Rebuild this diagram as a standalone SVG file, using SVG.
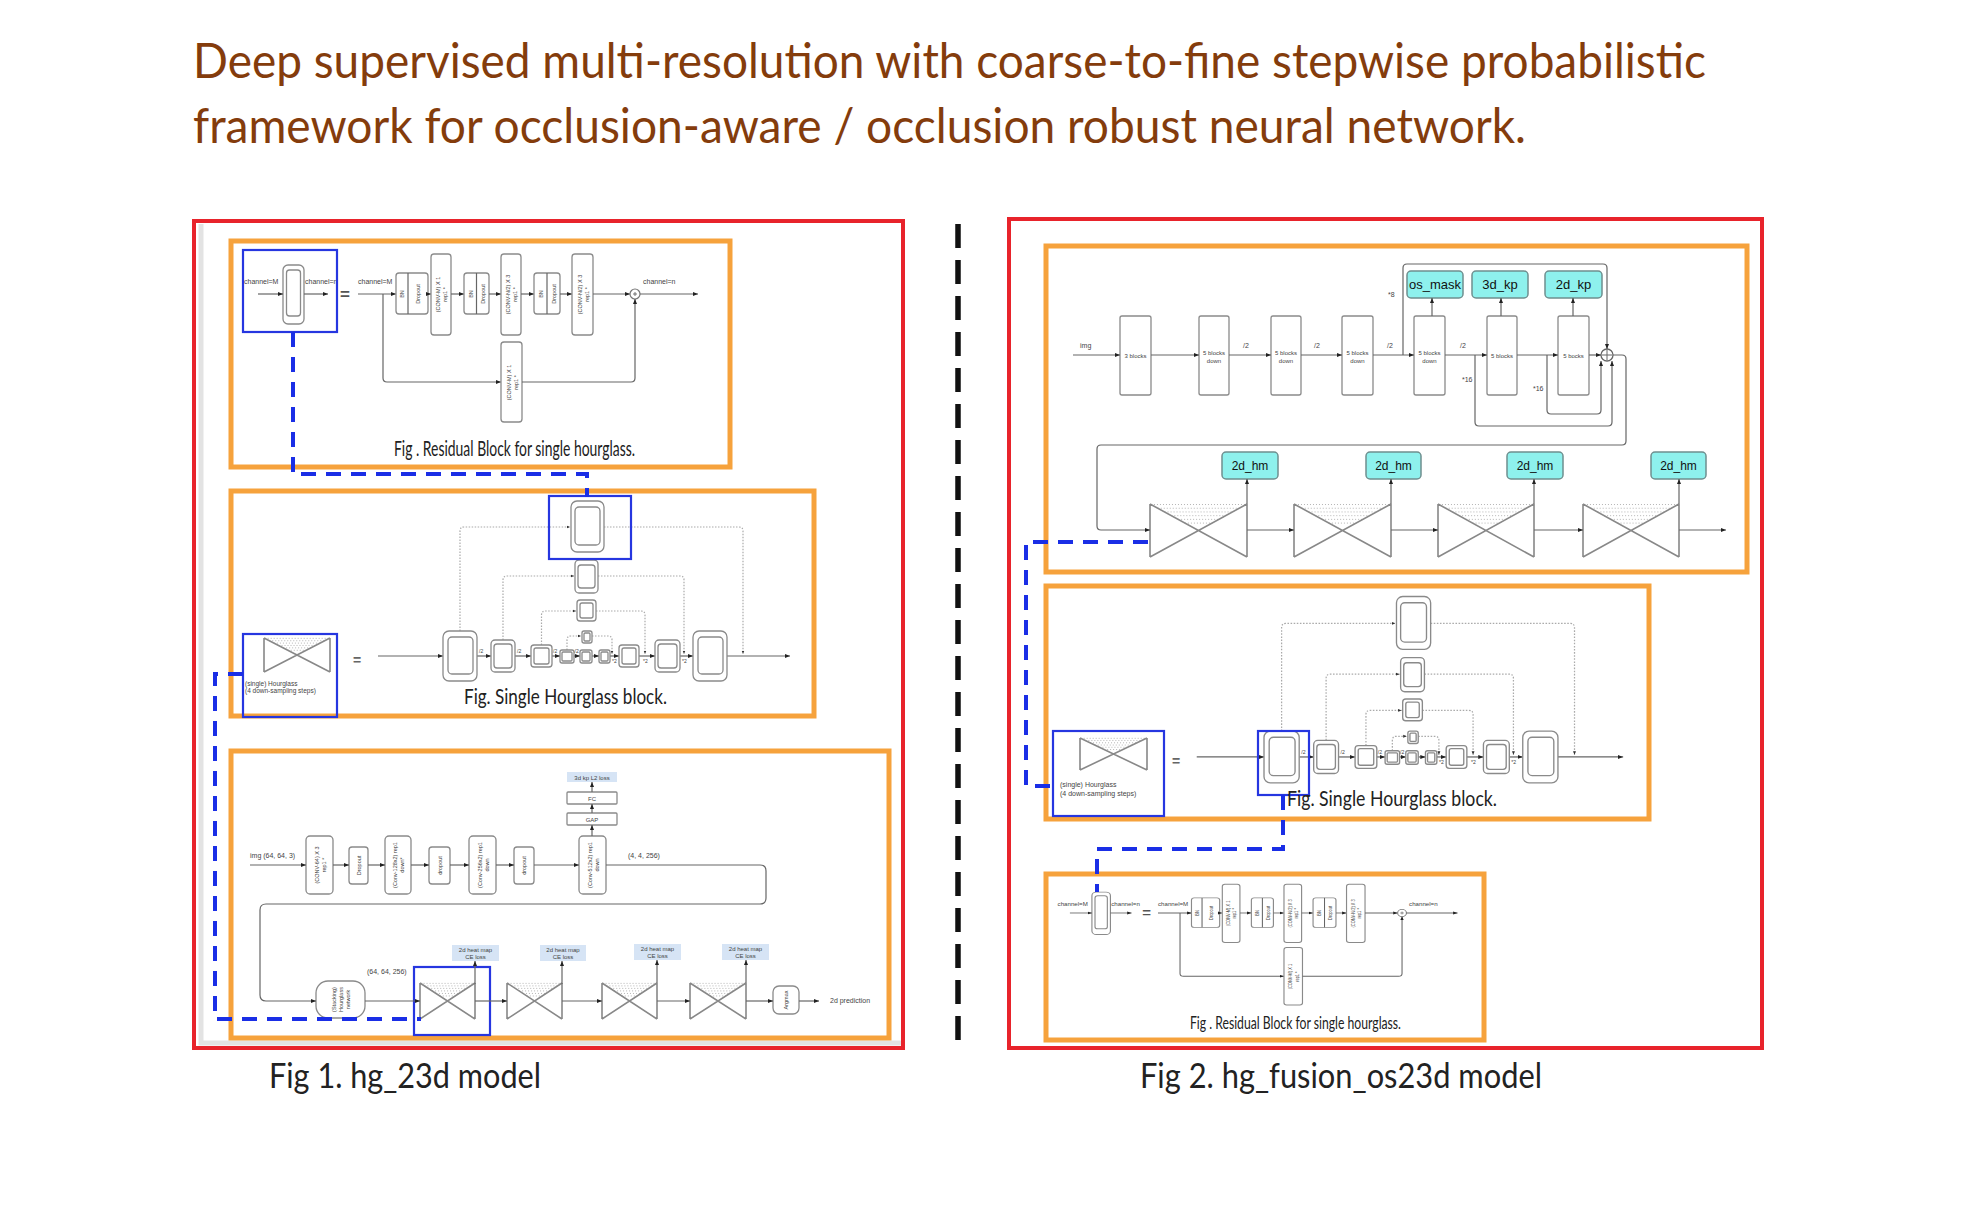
<svg xmlns="http://www.w3.org/2000/svg" xmlns:xlink="http://www.w3.org/1999/xlink" width="1982" height="1208" viewBox="0 0 1982 1208">
<defs>
<style>
.ln{stroke:#666;stroke-width:1.2;fill:none}
.arr{marker-end:url(#ah)}
.box{fill:#fff;stroke:#8a8a8a;stroke-width:1.3}
.dot{stroke:#aaa;stroke-width:1.2;stroke-dasharray:1.5 1.5;fill:none;marker-end:url(#ahs)}
.blue{fill:none;stroke:#2636e0;stroke-width:2.2}
.bdash{fill:none;stroke:#1a2ee6;stroke-width:4;stroke-dasharray:15 10}
.orange{fill:none;stroke:#f6a23c;stroke-width:5}
.red{fill:none;stroke:#e8232b;stroke-width:4}
.cyan{fill:#8ef1ed;stroke:#6f8f8f;stroke-width:1.5}
.loss{fill:#d6e4f5}
.t{font-family:"Liberation Sans",Arial,sans-serif;fill:#444}
.t7{font-family:"Liberation Sans",Arial,sans-serif;font-size:7px;fill:#444}
.r{font-family:"Liberation Sans",Arial,sans-serif;font-size:5.5px;fill:#444;text-anchor:middle}
.c{font-family:"Liberation Sans",Arial,sans-serif;font-size:6px;fill:#444;text-anchor:middle}
.cap{font-family:Lato,"Open Sans",sans-serif;fill:#222}
.hgl{stroke:#888;stroke-width:1.6;fill:none;vector-effect:non-scaling-stroke}
.hgd{stroke:#b5b5b5;stroke-width:1;stroke-dasharray:1 2;fill:none;vector-effect:non-scaling-stroke}
</style>
<marker id="ah" viewBox="0 0 10 10" refX="10" refY="5" markerWidth="5" markerHeight="5" markerUnits="userSpaceOnUse" orient="auto"><path d="M0,1 L10,5 L0,9z" fill="#222"/></marker>
<marker id="ahs" viewBox="0 0 10 10" refX="10" refY="5" markerWidth="3.5" markerHeight="3.5" markerUnits="userSpaceOnUse" orient="auto"><path d="M0,1 L10,5 L0,9z" fill="#333"/></marker>
<symbol id="hgsym" viewBox="0 0 100 100" preserveAspectRatio="none" overflow="visible">
<path class="hgd" d="M1,1 H99 M8,8 H92 M15,15 H85 M22,22 H78 M29,29 H71 M36,36 H64"/>
<path class="hgl" d="M0,0 L100,100 M0,100 L100,0 M0,0 V100 M100,0 V100"/>
</symbol>
<g id="resfig">
<rect class="box" x="283" y="265" width="21" height="59" rx="5"/>
<rect class="box" x="286.5" y="270" width="14" height="46" rx="3"/>
<path class="ln arr" d="M258,294 H283"/>
<path class="ln arr" d="M304,294 H328"/>
<text class="t7" x="244" y="284">channel=M</text>
<text class="t7" x="305" y="284">channel=n</text>
<text x="340" y="300" font-family="Liberation Sans,Arial,sans-serif" font-size="17" font-weight="bold" fill="#555">=</text>
<text class="t7" x="358" y="284">channel=M</text>
<path class="ln arr" d="M358,294 H396"/>
<path class="ln arr" d="M383,294 V378 Q383,382 387,382 H501"/>
<rect class="box" x="396" y="273" width="32" height="41" rx="3"/>
<path class="ln" d="M408,273 V314"/>
<text class="r" transform="translate(404,294) rotate(-90)">BN</text>
<text class="r" transform="translate(420,294) rotate(-90)">Dropout</text>
<path class="ln arr" d="M426,294 H431"/>
<rect class="box" x="431" y="254" width="20" height="81" rx="3"/>
<text class="r" transform="translate(441,294.5) rotate(-90)"><tspan x="0" y="-1">(CONV-M) X 1</tspan><tspan x="0" y="6">rep1 *</tspan></text>
<path class="ln arr" d="M451,294 H464"/>
<rect class="box" x="464" y="273" width="25" height="41" rx="3"/>
<path class="ln" d="M476.5,273 V314"/>
<text class="r" transform="translate(472.5,294) rotate(-90)">BN</text>
<text class="r" transform="translate(485,294) rotate(-90)">Dropout</text>
<path class="ln arr" d="M489,294 H501"/>
<rect class="box" x="501" y="254" width="20" height="81" rx="3"/>
<text class="r" transform="translate(511,294.5) rotate(-90)"><tspan x="0" y="-1">(CONV-N/2) X 3</tspan><tspan x="0" y="6">rep1 *</tspan></text>
<path class="ln arr" d="M521,294 H534"/>
<rect class="box" x="534" y="273" width="26" height="41" rx="3"/>
<path class="ln" d="M547,273 V314"/>
<text class="r" transform="translate(542.5,294) rotate(-90)">BN</text>
<text class="r" transform="translate(555.5,294) rotate(-90)">Dropout</text>
<path class="ln arr" d="M560,294 H572"/>
<rect class="box" x="572" y="254" width="21" height="81" rx="3"/>
<text class="r" transform="translate(582.5,294.5) rotate(-90)"><tspan x="0" y="-1">(CONV-N/2) X 3</tspan><tspan x="0" y="6">rep1 *</tspan></text>
<path class="ln arr" d="M593,294 H630"/>
<circle cx="635" cy="294" r="5" fill="#fff" stroke="#777" stroke-width="1.2"/>
<path d="M633,294 H637 M635,292 V296" stroke="#555" stroke-width="0.8"/>
<path class="ln arr" d="M640,294 H698"/>
<text class="t7" x="643" y="284">channel=n</text>
<rect class="box" x="501" y="342" width="21" height="80" rx="3"/>
<text class="r" transform="translate(511.5,382.5) rotate(-90)"><tspan x="0" y="-1">(CONV-M) X 1</tspan><tspan x="0" y="6">rep1 *</tspan></text>
<path class="ln arr" d="M522,382 H631 Q635,382 635,378 V299"/>
</g>
<g id="hgfig">
<path class="dot" d="M460,631 V531 Q460,527 464,527 H570"/>
<path class="dot" d="M604,527 H739 Q743,527 743,531 V654"/>
<path class="dot" d="M503,640 V580 Q503,576 507,576 H574"/>
<path class="dot" d="M598,576 H680 Q684,576 684,580 V654"/>
<path class="dot" d="M541.5,645 V615 Q541.5,611 545.5,611 H576"/>
<path class="dot" d="M596,611 H641 Q645,611 645,615 V654"/>
<path class="dot" d="M567,650 V640 Q567,636 571,636 H581"/>
<path class="dot" d="M592,636 H608 Q612,636 612,640 V654"/>
<path class="ln arr" d="M378,656 H443"/>
<path class="ln arr" d="M477,656 H491"/>
<path class="ln arr" d="M515,656 H531"/>
<path class="ln arr" d="M552,656 H560"/>
<path class="ln arr" d="M574,656 H580"/>
<path class="ln arr" d="M592,656 H599"/>
<path class="ln arr" d="M610,656 H619"/>
<path class="ln arr" d="M639,656 H655"/>
<path class="ln arr" d="M680,656 H693"/>
<path class="ln arr" d="M727,656 H790"/>
<rect class="box" x="571" y="501" width="33" height="51" rx="6"/><rect class="box" x="575" y="507" width="25" height="38" rx="4"/>
<rect class="box" x="575" y="560" width="23" height="33" rx="4"/><rect class="box" x="578" y="565" width="17" height="23" rx="3"/>
<rect class="box" x="577" y="600" width="19" height="21" rx="3"/><rect class="box" x="580" y="603" width="13" height="15" rx="2"/>
<rect class="box" x="582" y="631" width="10" height="12" rx="2"/><rect class="box" x="584" y="633" width="6" height="8" rx="1"/>
<rect class="box" x="443" y="631" width="34" height="50" rx="6"/><rect class="box" x="448" y="637" width="25" height="37" rx="4"/>
<rect class="box" x="491" y="640" width="24" height="32" rx="4"/><rect class="box" x="494" y="644" width="18" height="24" rx="3"/>
<rect class="box" x="531" y="645" width="21" height="22" rx="3"/><rect class="box" x="534" y="648" width="15" height="16" rx="2"/>
<rect class="box" x="560" y="650" width="14" height="13" rx="2"/><rect class="box" x="562" y="652" width="10" height="9" rx="1"/>
<rect class="box" x="580" y="650" width="12" height="13" rx="2"/><rect class="box" x="582" y="652" width="8" height="9" rx="1"/>
<rect class="box" x="599" y="650" width="11" height="13" rx="2"/><rect class="box" x="601" y="652" width="7" height="9" rx="1"/>
<rect class="box" x="619" y="645" width="20" height="22" rx="3"/><rect class="box" x="622" y="648" width="14" height="16" rx="2"/>
<rect class="box" x="655" y="640" width="25" height="32" rx="4"/><rect class="box" x="658" y="644" width="19" height="24" rx="3"/>
<rect class="box" x="693" y="631" width="34" height="50" rx="6"/><rect class="box" x="698" y="637" width="25" height="37" rx="4"/>
<g class="t" font-size="5">
<text x="479" y="653">/2</text><text x="517" y="653">/2</text><text x="553" y="653">/2</text><text x="574.5" y="653">/2</text>
<text x="612" y="663">*2</text><text x="643" y="663">*2</text><text x="682" y="663">*2</text>
</g>
</g>
</defs>
<rect width="1982" height="1208" fill="#fff"/>
<g id="title">
<text x="193" y="78" font-family="Lato,'Open Sans',sans-serif" font-size="48" fill="#843c0c" textLength="1513" lengthAdjust="spacingAndGlyphs">Deep supervised multi-resolution with coarse-to-fine stepwise probabilistic</text>
<text x="193" y="143" font-family="Lato,'Open Sans',sans-serif" font-size="48" fill="#843c0c" textLength="1333" lengthAdjust="spacingAndGlyphs">framework for occlusion-aware / occlusion robust neural network.</text>
</g>
<g id="fig1">
<path d="M201,224 V1043 H903" stroke="#e3e3e3" stroke-width="5" fill="none"/>
<rect class="red" x="194" y="221" width="709" height="827"/>
<g id="fig1-residual">
<rect class="orange" x="231" y="241" width="499" height="226"/>
<use xlink:href="#resfig"/>
<rect class="blue" x="243" y="250" width="94" height="82"/>
<text class="cap" x="394" y="456" font-size="22" textLength="241" lengthAdjust="spacingAndGlyphs">Fig . Residual Block for single hourglass.</text>
</g>
<g id="fig1-hourglass">
<rect class="orange" x="231" y="491" width="583" height="225"/>
<use xlink:href="#hgfig"/>
<rect class="blue" x="549" y="496" width="82" height="63"/>
<rect class="blue" x="243" y="634" width="94" height="83"/>
<use xlink:href="#hgsym" x="264" y="638" width="66" height="34"/>
<text class="t" font-size="6.5" x="245" y="686">(single) Hourglass</text>
<text class="t" font-size="6.5" x="245" y="693">(4 down-sampling steps)</text>
<text x="353" y="665" font-family="Liberation Sans,Arial,sans-serif" font-size="14" font-weight="bold" fill="#666">=</text>
<text class="cap" x="464" y="704" font-size="22" textLength="203" lengthAdjust="spacingAndGlyphs">Fig. Single Hourglass block.</text>
</g>
<g id="fig1-network">
<rect class="orange" x="231" y="751" width="658" height="287"/>
<text class="t7" x="250" y="858">img (64, 64, 3)</text>
<g id="n-conv64"><rect class="box" x="306" y="836" width="27" height="58" rx="4"/><text class="r" transform="translate(319.5,865) rotate(-90)"><tspan x="0" y="-1">(CONV-64) X 3</tspan><tspan x="0" y="6">rep1 *</tspan></text></g>
<g id="n-drop1"><rect class="box" x="349" y="847" width="19" height="37" rx="3"/><text class="r" transform="translate(360.5,865.5) rotate(-90)">Dropout</text></g>
<g id="n-conv128"><rect class="box" x="385" y="836" width="26" height="58" rx="4"/><text class="r" transform="translate(398,865) rotate(-90)"><tspan x="0" y="-1">(Conv-128x2) rep1</tspan><tspan x="0" y="6">down*</tspan></text></g>
<g id="n-drop2"><rect class="box" x="429" y="847" width="21" height="37" rx="3"/><text class="r" transform="translate(441.5,865.5) rotate(-90)">dropout</text></g>
<g id="n-conv256"><rect class="box" x="469" y="836" width="27" height="58" rx="4"/><text class="r" transform="translate(482.5,865) rotate(-90)"><tspan x="0" y="-1">(Conv-256x2) rep1</tspan><tspan x="0" y="6">down</tspan></text></g>
<g id="n-drop3"><rect class="box" x="514" y="847" width="20" height="37" rx="3"/><text class="r" transform="translate(526,865.5) rotate(-90)">dropout</text></g>
<g id="n-conv512"><rect class="box" x="579" y="836" width="27" height="58" rx="4"/><text class="r" transform="translate(592.5,865) rotate(-90)"><tspan x="0" y="-1">(Conv-512x2) rep1</tspan><tspan x="0" y="6">down</tspan></text></g>
<g id="n-gap"><rect class="box" x="567" y="813" width="50" height="12" rx="1"/><text class="c" x="592" y="821.5">GAP</text></g>
<g id="n-fc"><rect class="box" x="567" y="792" width="50" height="12" rx="1"/><text class="c" x="592" y="800.5">FC</text></g>
<g id="n-l2"><rect class="loss" x="567" y="772" width="50" height="10"/><text class="c" x="592" y="779.5">3d kp L2 loss</text></g>
<text class="t7" x="628" y="858">(4, 4, 256)</text>
<g id="n-stack"><rect class="box" x="316" y="981" width="49" height="37" rx="12"/><text class="r" transform="translate(340.5,999.5) rotate(-90)"><tspan x="0" y="-5">(Stacking)</tspan><tspan x="0" y="2">Hourglass</tspan><tspan x="0" y="9">network</tspan></text></g>
<text class="t7" x="367" y="974">(64, 64, 256)</text>
<g id="n-hg1"><use xlink:href="#hgsym" x="420" y="983" width="55" height="36"/><rect class="loss" x="452" y="945" width="47" height="16"/><text class="c" x="475.5" y="952">2d heat map</text><text class="c" x="475.5" y="959">CE loss</text></g>
<g id="n-hg2"><use xlink:href="#hgsym" x="507" y="983" width="55" height="36"/><rect class="loss" x="540" y="945" width="46" height="16"/><text class="c" x="563" y="952">2d heat map</text><text class="c" x="563" y="959">CE loss</text></g>
<g id="n-hg3"><use xlink:href="#hgsym" x="602" y="983" width="55" height="36"/><rect class="loss" x="634" y="944" width="47" height="16"/><text class="c" x="657.5" y="951">2d heat map</text><text class="c" x="657.5" y="958">CE loss</text></g>
<g id="n-hg4"><use xlink:href="#hgsym" x="690" y="983" width="56" height="36"/><rect class="loss" x="722" y="944" width="47" height="16"/><text class="c" x="745.5" y="951">2d heat map</text><text class="c" x="745.5" y="958">CE loss</text></g>
<g id="n-argmax"><rect class="box" x="773" y="986" width="26" height="28" rx="6"/><text class="r" transform="translate(788,1000) rotate(-90)">Argmax</text></g>
<text class="t7" x="830" y="1003">2d prediction</text>
<rect class="blue" x="414" y="967" width="76" height="68"/>
</g>
<text class="cap" x="269" y="1088" font-size="34" textLength="272" lengthAdjust="spacingAndGlyphs">Fig 1. hg_23d model</text>
</g>
<g id="divider"><path d="M958,224 V1049" stroke="#111" stroke-width="5.5" stroke-dasharray="24 12"/></g>
<g id="fig2">
<rect class="red" x="1009" y="219" width="753" height="829"/>
<g id="fig2-network">
<rect class="orange" x="1046" y="246" width="701" height="326"/>
<text class="t7" x="1080" y="348">img</text>
<g id="b1"><rect class="box" x="1120" y="316" width="31" height="79" rx="2"/><text class="c" x="1135.5" y="358" font-size="7">3 blocks</text></g>
<g id="b2"><rect class="box" x="1199" y="316" width="30" height="79" rx="2"/><text class="c" x="1214" y="355" font-size="7">5 blocks</text><text class="c" x="1214" y="363" font-size="7">down</text></g>
<g id="b3"><rect class="box" x="1271" y="316" width="30" height="79" rx="2"/><text class="c" x="1286" y="355" font-size="7">5 blocks</text><text class="c" x="1286" y="363" font-size="7">down</text></g>
<g id="b4"><rect class="box" x="1342" y="316" width="31" height="79" rx="2"/><text class="c" x="1357.5" y="355" font-size="7">5 blocks</text><text class="c" x="1357.5" y="363" font-size="7">down</text></g>
<g id="b5"><rect class="box" x="1414" y="316" width="31" height="79" rx="2"/><text class="c" x="1429.5" y="355" font-size="7">5 blocks</text><text class="c" x="1429.5" y="363" font-size="7">down</text></g>
<g id="b6"><rect class="box" x="1487" y="316" width="30" height="79" rx="2"/><text class="c" x="1502" y="358" font-size="7">5 blocks</text></g>
<g id="b7"><rect class="box" x="1558" y="316" width="31" height="79" rx="2"/><text class="c" x="1573.5" y="358" font-size="7">5 bocks</text></g>
<g class="t" font-size="7"><text x="1243" y="348">/2</text><text x="1314" y="348">/2</text><text x="1387" y="348">/2</text><text x="1460" y="348">/2</text><text x="1388" y="297">*8</text><text x="1462" y="382">*16</text><text x="1533" y="391">*16</text></g>
<g id="plus"><circle cx="1607" cy="355" r="6" fill="#fff" stroke="#666" stroke-width="1.3"/><path d="M1602,355 H1612 M1607,350 V360" stroke="#666" stroke-width="1"/></g>
<g id="os_mask"><rect class="cyan" x="1407" y="271" width="56" height="27" rx="4"/><text x="1435" y="289" text-anchor="middle" font-family="Liberation Sans,Arial,sans-serif" font-size="13" fill="#111">os_mask</text></g>
<g id="kp3d"><rect class="cyan" x="1472" y="271" width="56" height="27" rx="4"/><text x="1500" y="289" text-anchor="middle" font-family="Liberation Sans,Arial,sans-serif" font-size="13" fill="#111">3d_kp</text></g>
<g id="kp2d"><rect class="cyan" x="1545" y="271" width="57" height="27" rx="4"/><text x="1573.5" y="289" text-anchor="middle" font-family="Liberation Sans,Arial,sans-serif" font-size="13" fill="#111">2d_kp</text></g>
<g id="hgA"><use xlink:href="#hgsym" x="1150" y="504" width="97" height="53"/><rect class="cyan" x="1222" y="452" width="56" height="27" rx="4"/><text x="1250" y="470" text-anchor="middle" font-family="Liberation Sans,Arial,sans-serif" font-size="12" fill="#111">2d_hm</text></g>
<g id="hgB"><use xlink:href="#hgsym" x="1294" y="504" width="97" height="53"/><rect class="cyan" x="1366" y="452" width="55" height="27" rx="4"/><text x="1393.5" y="470" text-anchor="middle" font-family="Liberation Sans,Arial,sans-serif" font-size="12" fill="#111">2d_hm</text></g>
<g id="hgC"><use xlink:href="#hgsym" x="1438" y="504" width="96" height="53"/><rect class="cyan" x="1507" y="452" width="56" height="27" rx="4"/><text x="1535" y="470" text-anchor="middle" font-family="Liberation Sans,Arial,sans-serif" font-size="12" fill="#111">2d_hm</text></g>
<g id="hgD"><use xlink:href="#hgsym" x="1583" y="504" width="96" height="53"/><rect class="cyan" x="1651" y="452" width="55" height="27" rx="4"/><text x="1678.5" y="470" text-anchor="middle" font-family="Liberation Sans,Arial,sans-serif" font-size="12" fill="#111">2d_hm</text></g>
</g>
<g id="fig2-hourglass">
<rect class="orange" x="1046" y="586" width="603" height="233"/>
<use xlink:href="#hgfig" transform="matrix(1.035,0,0,1.035,805.5,78)"/>
<rect class="blue" x="1053" y="731" width="111" height="85"/>
<use xlink:href="#hgsym" x="1080" y="738" width="67" height="32"/>
<text class="t" font-size="7" x="1060" y="787">(single) Hourglass</text>
<text class="t" font-size="7" x="1060" y="796">(4 down-sampling steps)</text>
<text x="1172" y="766" font-family="Liberation Sans,Arial,sans-serif" font-size="14" font-weight="bold" fill="#666">=</text>
<rect class="blue" x="1258" y="731" width="51" height="64"/>
<text class="cap" x="1287" y="806" font-size="22" textLength="210" lengthAdjust="spacingAndGlyphs">Fig. Single Hourglass block.</text>
</g>
<g id="fig2-residual">
<rect class="orange" x="1046" y="874" width="438" height="166"/>
<use xlink:href="#resfig" transform="matrix(0.881,0,0,0.719,842.6,701.6)"/>
<text class="cap" x="1190" y="1029" font-size="17" textLength="211" lengthAdjust="spacingAndGlyphs">Fig . Residual Block for single hourglass.</text>
</g>
<text class="cap" x="1140" y="1088" font-size="34" textLength="402" lengthAdjust="spacingAndGlyphs">Fig 2. hg_fusion_os23d model</text>
</g>
<g id="connectors">
<g class="ln arr">
<path d="M250,865 H306"/><path d="M333,865 H349"/><path d="M368,865 H385"/><path d="M411,865 H429"/><path d="M450,865 H469"/><path d="M496,865 H514"/><path d="M534,865 H579"/>
<path d="M592,836 V825"/><path d="M592,813 V804"/><path d="M592,792 V782"/>
<path d="M606,865 H760 Q766,865 766,871 V898 Q766,904 760,904 H266 Q260,904 260,910 V995 Q260,1001 266,1001 H316"/>
<path d="M365,1001 H420"/><path d="M475,1001 H507"/><path d="M562,1001 H602"/><path d="M657,1001 H690"/><path d="M746,1001 H773"/><path d="M799,1001 H819"/>
<path d="M475,984 V961"/><path d="M562,984 V961"/><path d="M657,983 V960"/><path d="M746,983 V960"/>
<path d="M1073,355 H1120"/><path d="M1151,355 H1199"/><path d="M1229,355 H1271"/><path d="M1301,355 H1342"/><path d="M1373,355 H1414"/>
<path d="M1403,355 V268 Q1403,264 1407,264 H1603 Q1607,264 1607,268 V349"/>
<path d="M1445,355 H1487"/><path d="M1517,355 H1558"/><path d="M1589,355 H1601"/>
<path d="M1475,355 V422 Q1475,426 1479,426 H1608 Q1612,426 1612,422 V361"/>
<path d="M1547,355 V410 Q1547,414 1551,414 H1597 Q1601,414 1601,410 V361"/>
<path d="M1613,355 H1622 Q1626,355 1626,359 V441 Q1626,445 1622,445 H1101 Q1097,445 1097,449 V526 Q1097,530 1101,530 H1150"/>
<path d="M1432,316 V298"/><path d="M1501,316 V298"/><path d="M1573,316 V298"/>
<path d="M1247,530 H1294"/><path d="M1391,530 H1438"/><path d="M1534,530 H1583"/><path d="M1679,530 H1726"/>
<path d="M1247,504 V479"/><path d="M1391,504 V479"/><path d="M1534,504 V479"/><path d="M1679,504 V479"/>
</g>
<path class="bdash" d="M293,332 V474 H587 V497"/>
<path class="bdash" d="M243,674 H215 V1019 H421"/>
<path class="bdash" d="M1148,542 H1026 V786 H1053"/>
<path class="bdash" d="M1283,795 V849 H1097 V892"/>
</g>
</svg>
